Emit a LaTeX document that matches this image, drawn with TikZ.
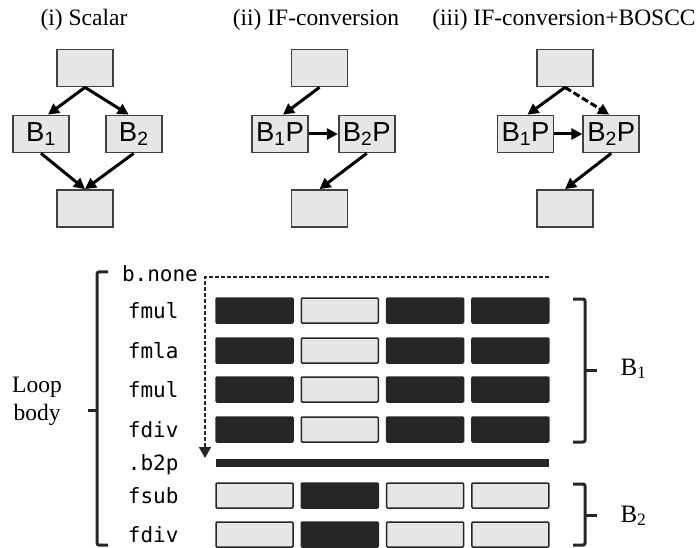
\documentclass[tikz,border=0pt]{standalone}
\usepackage{fontspec}
\setmainfont{Liberation Serif}
\setsansfont{Liberation Sans}
\setmonofont{DejaVu Sans Mono}
\usetikzlibrary{arrows.meta,positioning}
\definecolor{boxgray}{HTML}{E6E6E6}
\definecolor{edgegray}{HTML}{404040}
\definecolor{bardark}{HTML}{262626}

\begin{document}
\begin{tikzpicture}[x=1pt, y=-1pt,
    blk/.style={draw=edgegray, line width=1.7pt, fill=boxgray, minimum width=56pt, minimum height=37pt, inner sep=0pt, font=\sffamily\fontsize{27.5}{27.5}\selectfont},
    flow/.style={line width=3pt, -{Triangle[length=11pt,width=11pt]}},
    title/.style={anchor=base, font=\fontsize{23.5}{28}\selectfont},
    lane/.style={draw=bardark, line width=1.5pt, minimum width=77pt, minimum height=25pt, inner sep=0pt, rounded corners=1pt},
    op/.style={anchor=base east, font=\ttfamily\fontsize{21}{21}\selectfont},
    brace/.style={draw=bardark, line width=3pt, rounded corners=2pt}]
    \useasboundingbox (0,0) rectangle (699,548);

    % (i) scalar
    \node[title] (t1) at (84,26) {(i) Scalar};
    \node[blk] (s0) at (85,68) {};
    \node[blk] (s1) at (41,134) {B\textsubscript{1}};
    \node[blk, right=35pt of s1] (s2) {B\textsubscript{2}};
    \node[blk] (s3) at (85,208.5) {};
    \draw[flow] (s0.south) -- ([xshift=7pt]s1.north);
    \draw[flow] (s0.south) -- ([xshift=-5pt]s2.north);
    \draw[flow] (s1.south) -- (s3.north);
    \draw[flow] (s2.south) -- (s3.north);

    % (ii) if-conversion
    \node[title] (t2) at (316,26) {(ii) IF-conversion};
    \node[blk] (c0) at (319.5,68) {};
    \node[blk] (c1) at (280,134) {B\textsubscript{1}P};
    \node[blk, right=29pt of c1] (c2) {B\textsubscript{2}P};
    \node[blk] (c3) at (319.5,208.5) {};
    \draw[flow] (c0.south) -- ([xshift=3pt]c1.north);
    \draw[flow] (c1) -- (c2);
    \draw[flow] (c2.south) -- (c3.north);

    % (iii) if-conversion + boscc
    \node[title] (t3) at (564,26) {(iii) IF-conversion+BOSCC};
    \node[blk] (p0) at (565,68) {};
    \node[blk] (p1) at (525.5,134) {B\textsubscript{1}P};
    \node[blk, right=28pt of p1] (p2) {B\textsubscript{2}P};
    \node[blk] (p3) at (565,208.5) {};
    \draw[flow] (p0.south) -- ([xshift=2pt]p1.north);
    \draw[flow, dash pattern=on 7pt off 3pt] (p0.south) -- ([xshift=-2pt]p2.north);
    \draw[flow] (p1) -- (p2);
    \draw[flow] (p2.south) -- (p3.north);

    % loop body lanes
    \foreach \r/\y/\op/\a/\b/\c/\d in {1/310.5/fmul/bardark/boxgray/bardark/bardark,
                                       2/350.5/fmla/bardark/boxgray/bardark/bardark,
                                       3/389.5/fmul/bardark/boxgray/bardark/bardark,
                                       4/429.5/fdiv/bardark/boxgray/bardark/bardark,
                                       5/495.5/fsub/boxgray/bardark/boxgray/boxgray,
                                       6/534.5/fdiv/boxgray/bardark/boxgray/boxgray} {
        \node[op] (op\r) at (182,\y+7.5) {\op};
        \foreach \k/\s in {1/\a,2/\b,3/\c,4/\d}
            \node[lane, fill=\s] (r\r c\k) at (254.5+85.3*\k-85.3,\y) {};
    }
    \node[op, anchor=base west] (bnone) at (118.5,282) {b.none};
    \node[op] (b2p) at (182,470.5) {.b2p};
    \node[fill=bardark, minimum width=333pt, minimum height=8pt, inner sep=0pt] (b2pbar) at (382.5,463) {};

    % branch over B1
    \coordinate (skip) at (549,277);
    \coordinate (land) at (205,458);
    \draw[draw=bardark, line width=2pt, dash pattern=on 4pt off 2pt, -{Triangle[length=11pt,width=12pt]}] (skip) -| (land);

    % braces
    \draw[brace] (108,272) -- (97,272) -- (97,545) -- (108,545);
    \draw[brace] (97,410) -- (88,410);
    \node[align=center, font=\fontsize{23.5}{28}\selectfont] (loop) at (37,401) {Loop\\body};
    \draw[brace] (573,299) -- (585,299) -- (585,442) -- (573,442);
    \draw[brace] (585,370) -- (597,370);
    \node[anchor=base west, font=\fontsize{25}{28}\selectfont] (bb1) at (617,375) {B\textsubscript{1}};
    \draw[brace] (573,484) -- (585,484) -- (585,545) -- (573,545);
    \draw[brace] (585,515) -- (597,515);
    \node[anchor=base west, font=\fontsize{25}{28}\selectfont] (bb2) at (617,522) {B\textsubscript{2}};
\end{tikzpicture}
\end{document}
